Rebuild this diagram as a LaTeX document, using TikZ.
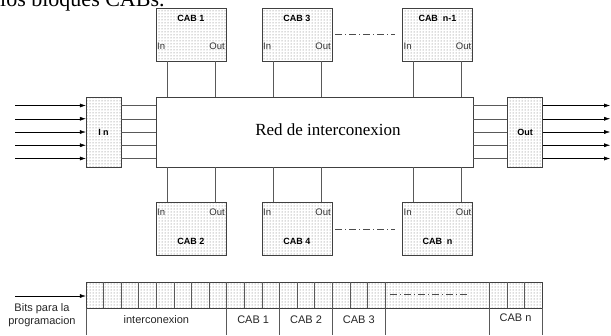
\documentclass[tikz,border=0pt]{standalone}
\usepackage{fontspec}
\setmainfont{Liberation Serif}
\setsansfont{Liberation Sans}
\usetikzlibrary{patterns,calc,arrows.meta}

\begin{document}
\begin{tikzpicture}[x=1pt,y=-1pt]
	% Styles
	\tikzstyle{bloc}=[draw=black!75,pattern=dots,pattern color=black!60,inner sep=0pt]
	\tikzstyle{cab}=[bloc,minimum width=70pt,minimum height=53pt]
	\tikzstyle{porte}=[bloc,minimum width=35pt,minimum height=70pt]
	\tikzstyle{fleche}=[-{Latex[length=6pt,width=4pt]},black]
	\tikzstyle{fil}=[black!65]
	\tikzstyle{titre}=[font=\sffamily\bfseries\fontsize{9}{10}\selectfont,inner sep=1pt]
	\tikzstyle{es}=[font=\sffamily\fontsize{9.5}{10}\selectfont,inner sep=1pt,black!80]
	\tikzstyle{texte}=[font=\sffamily\fontsize{11}{13}\selectfont,black!85]
	\tikzstyle{pointille}=[black!70,dash pattern=on 7pt off 3pt on 1pt off 3pt]
	% Dimensions
	\def\ColA{191}
	\def\ColB{297}
	\def\ColC{437.5}
	\def\NivHaut{34.5}
	\def\NivBas{229}
	\def\Cellule{17.6}
	\useasboundingbox (0,0) rectangle (611,335);
	% Phrase coupee
	\node[anchor=base west,inner sep=0pt,font=\fontsize{22}{24}\selectfont] (phrase) at (0,6) {los bloques CABs.};
	% Reseau central et portes
	\node[draw=black!75,minimum width=317pt,minimum height=70pt,inner sep=0pt] (reseau) at (314.5,132) {};
	\node[font=\fontsize{17}{19}\selectfont] (nomreseau) at (328,130) {Red de interconexion};
	\node[porte] (entree) at (103.5,132) {};
	\node[titre] (nomentree) at (entree) {I n};
	\node[porte] (sortie) at (525,132) {};
	\node[titre] (nomsortie) at (sortie) {Out};
	% CAB du haut
	\node[cab] (cabA) at (\ColA,\NivHaut) {};
	\node[titre] (tA) at (\ColA,{\NivHaut-16.5}) {CAB 1};
	\node[es,anchor=west] (iA) at ({\ColA-35},{\NivHaut+11.5}) {In};
	\node[es,anchor=east] (oA) at ({\ColA+35},{\NivHaut+11.5}) {Out};
	\node[cab] (cabC) at (\ColB,\NivHaut) {};
	\node[titre] (tC) at (\ColB,{\NivHaut-16.5}) {CAB 3};
	\node[es,anchor=west] (iC) at ({\ColB-35},{\NivHaut+11.5}) {In};
	\node[es,anchor=east] (oC) at ({\ColB+35},{\NivHaut+11.5}) {Out};
	\node[cab] (cabE) at (\ColC,\NivHaut) {};
	\node[titre] (tE) at (\ColC,{\NivHaut-16.5}) {CAB\ \ n-1};
	\node[es,anchor=west] (iE) at ({\ColC-35},{\NivHaut+11.5}) {In};
	\node[es,anchor=east] (oE) at ({\ColC+35},{\NivHaut+11.5}) {Out};
	% CAB du bas
	\node[cab] (cabB) at (\ColA,\NivBas) {};
	\node[titre] (tB) at (\ColA,{\NivBas+12}) {CAB 2};
	\node[es,anchor=west] (iB) at ({\ColA-35},{\NivBas-17}) {In};
	\node[es,anchor=east] (oB) at ({\ColA+35},{\NivBas-17}) {Out};
	\node[cab] (cabD) at (\ColB,\NivBas) {};
	\node[titre] (tD) at (\ColB,{\NivBas+12}) {CAB 4};
	\node[es,anchor=west] (iD) at ({\ColB-35},{\NivBas-17}) {In};
	\node[es,anchor=east] (oD) at ({\ColB+35},{\NivBas-17}) {Out};
	\node[cab] (cabF) at (\ColC,\NivBas) {};
	\node[titre] (tF) at (\ColC,{\NivBas+12}) {CAB\ \ n};
	\node[es,anchor=west] (iF) at ({\ColC-35},{\NivBas-17}) {In};
	\node[es,anchor=east] (oF) at ({\ColC+35},{\NivBas-17}) {Out};
	% Liaisons CAB - reseau
	\foreach \c in {cabA,cabC,cabE} {
		\coordinate (\c g) at ([xshift=-24pt]\c.south);
		\coordinate (\c d) at ([xshift=24pt]\c.south);
		\draw[fil] (\c g) -- (\c g |- reseau.north);
		\draw[fil] (\c d) -- (\c d |- reseau.north);
	}
	\foreach \c in {cabB,cabD,cabF} {
		\coordinate (\c g) at ([xshift=-24pt]\c.north);
		\coordinate (\c d) at ([xshift=24pt]\c.north);
		\draw[fil] (\c g |- reseau.south) -- (\c g);
		\draw[fil] (\c d |- reseau.south) -- (\c d);
	}
	\draw[pointille] ([xshift=3pt]cabC.east) -- ([xshift=-7pt]cabE.west);
	\draw[pointille] ([xshift=3pt]cabD.east) -- ([xshift=-7pt]cabF.west);
	% Entrees et sorties
	\foreach \k in {1,...,5} {
		\coordinate (g\k) at (15,{132+13.25*(\k-3)});
		\coordinate (d\k) at (610,{132+13.25*(\k-3)});
		\draw[fleche] (g\k) -- (g\k -| entree.west);
		\draw[fil] (g\k -| entree.east) -- (g\k -| reseau.west);
		\draw[fil] (g\k -| reseau.east) -- (g\k -| sortie.west);
		\draw[fleche] (g\k -| sortie.east) -- (d\k);
	}
	% Registre de programmation
	\node[bloc,minimum width=456pt,minimum height=26pt] (registre) at (314,295) {};
	\foreach \i in {1,...,17}
		\draw[fil] ($(registre.north west)+(\i*\Cellule,0)$) -- ++(0,26);
	\foreach \i in {1,2,3}
		\draw[fil] ($(registre.north east)-(\i*\Cellule,0)$) -- ++(0,26);
	\draw[pointille] ($(registre.west)+(304,-1)$) -- ($(registre.west)+(381,-1)$);
	\foreach \i in {0,8,11,14,17}
		\draw[fil] ($(registre.south west)+(\i*\Cellule,0)$) -- ++(0,27);
	\draw[fil] ($(registre.south east)-(3*\Cellule,0)$) -- ++(0,27);
	\draw[fil] (registre.south east) -- ++(0,27);
	\node[texte] (champI) at (156.4,320) {interconexion};
	\node[texte] (champA) at (253.2,320) {CAB 1};
	\node[texte] (champB) at (306,320) {CAB 2};
	\node[texte] (champC) at (358.8,320) {CAB 3};
	\node[texte] (champN) at (515.6,318) {CAB n};
	% Bits
	\coordinate (bits) at (15,296);
	\draw[fleche] (bits) -- (bits -| registre.west);
	\node[texte,align=center] (legende) at (42,315) {Bits para la\\programacion};
\end{tikzpicture}
\end{document}
